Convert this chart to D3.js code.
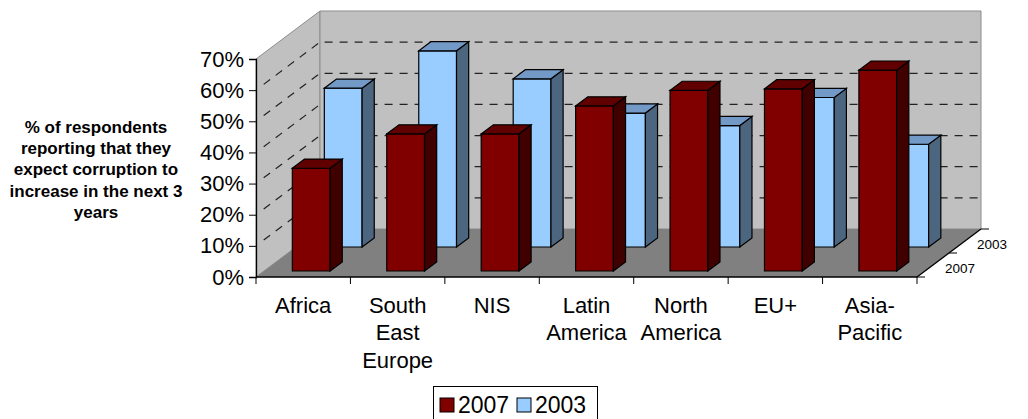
<!DOCTYPE html>
<html>
<head>
<meta charset="utf-8">
<script src="https://cdn.jsdelivr.net/npm/d3@7"></script>
<style>
  body { margin: 0; background: #fff; }
  text { font-family: "Liberation Sans", Arial, sans-serif; }
</style>
</head>
<body>
<div id="chart"></div>
<script>
// Data
const categories = [["Africa"], ["South", "East", "Europe"], ["NIS"], ["Latin", "America"], ["North", "America"], ["EU+"], ["Asia-", "Pacific"]];
const series = ["2007", "2003"];
const values2007 = [0.33, 0.44, 0.44, 0.53, 0.58, 0.585, 0.645];
const values2003 = [0.51, 0.63, 0.54, 0.43, 0.39, 0.48, 0.33];
const yTicks = [0, 0.1, 0.2, 0.3, 0.4, 0.5, 0.6, 0.7];
const titleLines = ["% of respondents", "reporting that they", "expect corruption to", "increase in the next 3", "years"];

const W = 1028, H = 419;
const svg = d3.select("#chart").append("svg").attr("width", W).attr("height", H);

// Front plane scales, depth offset for the back plane
const x = d3.scaleBand().domain(d3.range(categories.length)).range([256, 917])
  .paddingInner(0.6).paddingOuter(0.3);
const y = d3.scaleLinear().domain([0, 0.7]).range([277, 59]);
const depth = {dx: 64, dy: 48};
const xEdge = d3.scaleLinear().domain([0, categories.length]).range([256, 917]);

// project a point: px on front plane, d = depth fraction, v = value
function P(px, d, v) {
  return [px + d * depth.dx, y(v) - d * depth.dy];
}
const line = pts => "M" + pts.map(p => p.join(",")).join("L") + "Z";

const x0 = 256, x1 = 917;

// Walls
svg.append("path")
  .attr("d", line([P(x0, 0, 0), P(x0, 0, 0.7), P(x0, 1, 0.7), P(x0, 1, 0)]))
  .attr("fill", "#c0c0c0").attr("stroke", "#8c8c8c").attr("stroke-width", 1);
svg.append("path")
  .attr("d", line([P(x0, 1, 0), P(x0, 1, 0.7), P(x1, 1, 0.7), P(x1, 1, 0)]))
  .attr("fill", "#c0c0c0").attr("stroke", "#8c8c8c").attr("stroke-width", 1);
svg.append("path")
  .attr("d", line([P(x0, 0, 0), P(x1, 0, 0), P(x1, 1, 0), P(x0, 1, 0)]))
  .attr("fill", "#808080");

// Gridlines (dashed) on left and back walls
yTicks.filter(t => t > 0 && t < 0.7).forEach(t => {
  const a = P(x0, 0.12, t), b = P(x0, 1, t), c = P(x1, 1, t);
  svg.append("path").attr("d", `M${a}L${b}L${c}`)
    .attr("fill", "none").attr("stroke", "#222").attr("stroke-width", 1.2)
    .attr("stroke-dasharray", "8,7");
});

// Bars
const rows = [
  {name: "2003", vals: values2003, d: 0.5, front: "#99ccff", top: "#7399c6", side: "#4d6680"},
  {name: "2007", vals: values2007, d: 0, front: "#800000", top: "#600000", side: "#400000"}
];
const bd0 = 0.125, bd1 = 0.315;

rows.forEach(r => {
  const g = svg.append("g");
  r.vals.forEach((v, i) => {
    const l = x(i), rt = x(i) + x.bandwidth();
    const df = r.d + bd0, db = r.d + bd1;
    g.append("path").attr("d", line([P(l, df, 0), P(rt, df, 0), P(rt, df, v), P(l, df, v)]))
      .attr("fill", r.front).attr("stroke", "#000").attr("stroke-width", 1.2);
    g.append("path").attr("d", line([P(rt, df, 0), P(rt, db, 0), P(rt, db, v), P(rt, df, v)]))
      .attr("fill", r.side).attr("stroke", "#000").attr("stroke-width", 1.2);
    g.append("path").attr("d", line([P(l, df, v), P(rt, df, v), P(rt, db, v), P(l, db, v)]))
      .attr("fill", r.top).attr("stroke", "#000").attr("stroke-width", 1.2);
  });
});

// Y axis
const yAxis = svg.append("g").attr("transform", `translate(${x0},0)`)
  .call(d3.axisLeft(y).tickValues(yTicks).tickFormat(d3.format(".0%")).tickSize(7).tickPadding(5));
yAxis.select(".domain").attr("stroke", "#000").attr("stroke-width", 1.3);
yAxis.selectAll(".tick line").attr("stroke", "#000");
yAxis.selectAll("text").style("font-size", "22px").attr("fill", "#000");

// X axis
svg.append("line").attr("x1", x0).attr("x2", x1).attr("y1", y(0)).attr("y2", y(0))
  .attr("stroke", "#000").attr("stroke-width", 1.5);
d3.range(categories.length + 1).forEach(i => {
  svg.append("line").attr("x1", xEdge(i)).attr("x2", xEdge(i))
    .attr("y1", y(0)).attr("y2", y(0) + 7).attr("stroke", "#000");
});
categories.forEach((c, i) => {
  const cx = x(i) + x.bandwidth() / 2;
  const t = svg.append("text").attr("text-anchor", "middle")
    .attr("x", cx).attr("y", 313)
    .style("font-size", "22px");
  c.forEach((s, k) => t.append("tspan").attr("x", cx)
    .attr("dy", k === 0 ? 0 : 27.3).text(s));
});

// Depth axis
const dA = P(x1, 0, 0), dB = P(x1, 1, 0);
svg.append("line").attr("x1", dA[0]).attr("y1", dA[1]).attr("x2", dB[0]).attr("y2", dB[1])
  .attr("stroke", "#000").attr("stroke-width", 1.3);
[0, 0.5, 1].forEach(d => {
  const p = P(x1, d, 0);
  svg.append("line").attr("x1", p[0]).attr("x2", p[0] + 8).attr("y1", p[1]).attr("y2", p[1])
    .attr("stroke", "#000");
});
[["2003", 0.75], ["2007", 0.25]].forEach(([s, d]) => {
  const p = P(x1, d, 0);
  svg.append("text").attr("x", p[0] + 12).attr("y", p[1] + 8)
    .style("font-size", "13.5px").text(s);
});

// Y title
const title = svg.append("text").attr("text-anchor", "middle").attr("x", 96).attr("y", 133)
  .style("font-size", "17px").style("font-weight", "bold");
titleLines.forEach((s, k) => title.append("tspan").attr("x", 96).attr("dy", k === 0 ? 0 : 21.2).text(s));

// Legend
const lg = svg.append("g");
lg.append("rect").attr("x", 433.5).attr("y", 386.5).attr("width", 164).attr("height", 40)
  .attr("fill", "#fff").attr("stroke", "#000");
series.forEach((s, i) => {
  const r = rows.find(d => d.name === s);
  const lx = 440 + i * 77;
  lg.append("rect").attr("x", lx).attr("y", 398).attr("width", 14).attr("height", 14)
    .attr("fill", r.front).attr("stroke", "#000");
  lg.append("text").attr("x", lx + 18).attr("y", 413).style("font-size", "23px").text(s);
});
</script>
</body>
</html>
